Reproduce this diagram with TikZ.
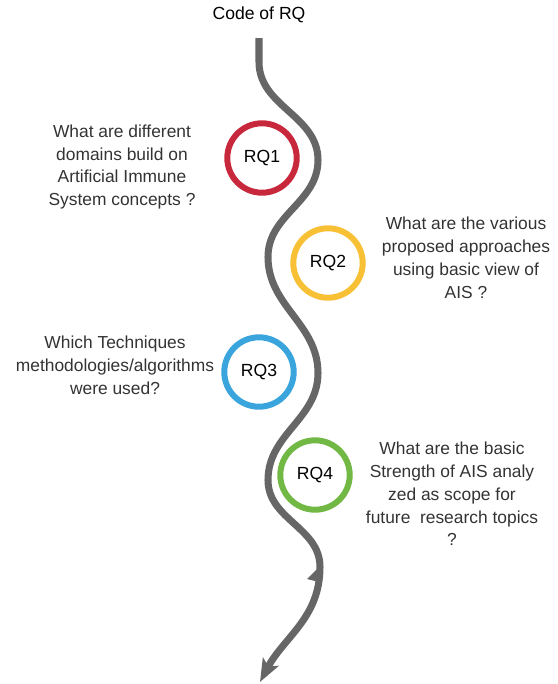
\documentclass[tikz,border=0pt]{standalone}
\usepackage{fontspec}
\setmainfont{Liberation Sans}
\usetikzlibrary{arrows.meta}

\definecolor{rqred}{HTML}{C8283C}
\definecolor{rqyellow}{HTML}{F7C035}
\definecolor{rqblue}{HTML}{3AA5DC}
\definecolor{rqgreen}{HTML}{72B844}
\definecolor{pathgray}{HTML}{666666}
\definecolor{textgray}{HTML}{333333}

\begin{document}
\begin{tikzpicture}[x=0.02cm, y=0.02cm,
    rq/.style={circle, draw, line width=3.4pt, minimum size=39.5pt, inner sep=0pt,
               font=\fontsize{10}{12}\selectfont},
    question/.style={align=center, text=textgray, font=\fontsize{9.9}{13}\selectfont}]
    \path[use as bounding box] (0,0) rectangle (558,-684);

    \node (title) at (259,-15) {\fontsize{10}{12}\selectfont Code of RQ};

    % winding road
    \coordinate (s0) at (259,-38);
    \coordinate (s1) at (259,-62);
    \coordinate (b1) at (318,-160);
    \coordinate (b2) at (268,-257);
    \coordinate (b3) at (318,-373);
    \coordinate (b4) at (268,-480);
    \coordinate (b5) at (320,-567);
    \coordinate (tip) at (260,-682);
    \draw[pathgray, line width=4pt, -{Stealth[length=13pt, width=10pt, inset=3pt]}]
        (s0) -- (s1)
        to[out=-90, in=90] (b1)
        to[out=-90, in=90] (b2)
        to[out=-90, in=90] (b3)
        to[out=-90, in=90] (b4)
        to[out=-90, in=90] (b5)
        to[out=-90, in=62] (tip);
    % little barb on the last bend
    \fill[pathgray] (307,-579) -- (317,-569) -- (319,-582) -- cycle;

    % questions
    \node[rq, rqred] (rq1) at (262,-158) {\textcolor{black}{RQ1}};
    \node[rq, rqyellow] (rq2) at (328,-263) {\textcolor{black}{RQ2}};
    \node[rq, rqblue] (rq3) at (259,-372) {\textcolor{black}{RQ3}};
    \node[rq, rqgreen] (rq4) at (315,-475) {\textcolor{black}{RQ4}};

    \node[question] (q1) at (122,-167) {What are different\\domains build on\\Artificial Immune\\System concepts ?};
    \node[question] (q2) at (466,-258) {What are the various\\proposed approaches\\using basic view of\\AIS ?};
    \node[question] (q3) at (115,-365) {Which Techniques\\methodologies/algorithms\\were used?};
    \node[question] (q4) at (452,-494) {What are the basic\\Strength of AIS analy\\zed as scope for\\future\ \ research topics\\?};
\end{tikzpicture}
\end{document}
